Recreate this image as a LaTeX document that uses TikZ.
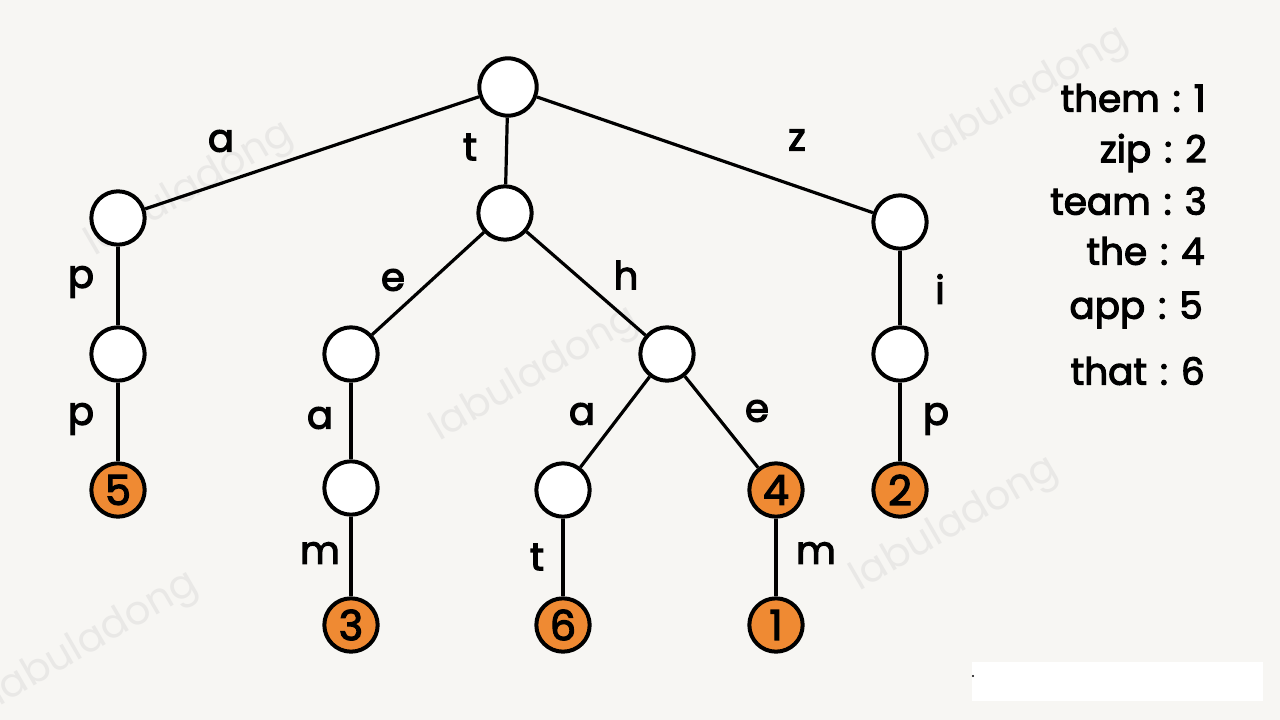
\documentclass[tikz,border=0pt]{standalone}
\usepackage{fontspec}
\setmainfont{Poppins}[FakeBold=3]
\newfontfamily\markfont{Poppins}
\definecolor{paper}{HTML}{F7F6F3}
\definecolor{leaf}{HTML}{EF8A33}
\definecolor{wm}{HTML}{E9E8E6}
\begin{document}
\begin{tikzpicture}[x=0.75pt,y=-0.75pt,
  trie/.style={circle,draw=black,line width=3pt,fill=white,minimum size=40pt,inner sep=0pt},
  word/.style={trie,fill=leaf,font=\fontsize{31}{31}\selectfont},
  edge/.style={line width=2.4pt},
  lbl/.style={font=\fontsize{29}{29}\selectfont,inner sep=0pt},
  legend/.style={font=\fontsize{28}{28}\selectfont,anchor=east,inner sep=0pt},
  wmark/.style={font=\markfont\fontsize{30}{30}\selectfont,text=wm,rotate=30}]
% page and background
\fill[paper] (0,0) rectangle (1280,720);
\useasboundingbox (0,0) rectangle (1280,720);
\fill[white] (972,662) rectangle (1263,701);
\fill[black] (973,676) circle (1.2);
% faint watermarks
\node[wmark] (w1) at (190,190) {labuladong};
\node[wmark] (w2) at (535,375) {labuladong};
\node[wmark] (w3) at (1025,95) {labuladong};
\node[wmark] (w4) at (955,525) {labuladong};
\node[wmark] (w5) at (95,640) {labuladong};
% trie nodes
\node[trie,minimum size=43pt] (root) at (508,87) {};
\node[trie] (a) at (118,218) {};
\node[trie] (t) at (505,213) {};
\node[trie] (z) at (900,222) {};
\node[trie] (ap) at (118,354) {};
\node[word] (app) at (118,490) {5};
\node[trie] (te) at (351,354) {};
\node[trie] (tea) at (351,488) {};
\node[word] (team) at (351,625) {3};
\node[trie] (th) at (667,354) {};
\node[trie] (tha) at (563,490) {};
\node[word] (that) at (563,625) {6};
\node[word] (the) at (776,490) {4};
\node[word] (them) at (776,625) {1};
\node[trie] (zi) at (900,354) {};
\node[word] (zip) at (900,490) {2};
% edges
\draw[edge] (root) -- (a);
\draw[edge] (root) -- (t);
\draw[edge] (root) -- (z);
\draw[edge] (a) -- (ap);
\draw[edge] (ap) -- (app);
\draw[edge] (t) -- (te);
\draw[edge] (te) -- (tea);
\draw[edge] (tea) -- (team);
\draw[edge] (t) -- (th);
\draw[edge] (th) -- (tha);
\draw[edge] (tha) -- (that);
\draw[edge] (th) -- (the);
\draw[edge] (the) -- (them);
\draw[edge] (z) -- (zi);
\draw[edge] (zi) -- (zip);
% edge letters
\node[lbl] (la) at (221,141) {a};
\node[lbl] (lt) at (470,147) {t};
\node[lbl] (lz) at (797,140) {z};
\node[lbl] (lp1) at (81,282) {p};
\node[lbl] (lp2) at (81,419) {p};
\node[lbl] (le1) at (393,280) {e};
\node[lbl] (lh) at (626,275) {h};
\node[lbl] (la2) at (320,418) {a};
\node[lbl] (lm1) at (320,553) {m};
\node[lbl] (la3) at (582,414) {a};
\node[lbl] (le2) at (757,411) {e};
\node[lbl] (lt2) at (537,557) {t};
\node[lbl] (lm2) at (816,553) {m};
\node[lbl] (li) at (940,289) {i};
\node[lbl] (lp3) at (936,419) {p};
% word list
\node[legend] (k1) at (1206,98) {them\hspace{0.35em}:\hspace{0.35em}1};
\node[legend] (k2) at (1207,153) {zip\hspace{0.35em}:\hspace{0.35em}2};
\node[legend] (k3) at (1207,201) {team\hspace{0.35em}:\hspace{0.35em}3};
\node[legend] (k4) at (1205,251) {the\hspace{0.35em}:\hspace{0.35em}4};
\node[legend] (k5) at (1203,310) {app\hspace{0.35em}:\hspace{0.35em}5};
\node[legend] (k6) at (1205,371) {that\hspace{0.35em}:\hspace{0.35em}6};
\end{tikzpicture}
\end{document}
